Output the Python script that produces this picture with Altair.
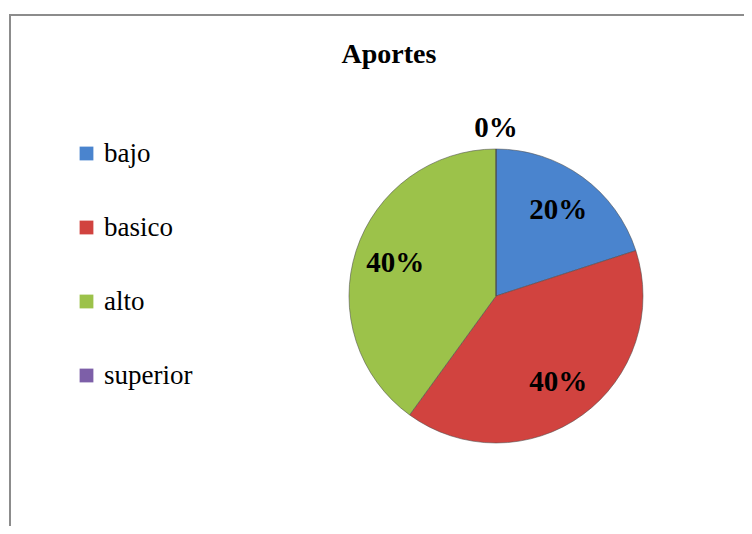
import altair as alt
import pandas as pd

TITLE = "Aportes"
categories = ["bajo", "basico", "alto", "superior"]
values = [20, 40, 40, 0]
colors = ["#4A84CE", "#D1433F", "#9CC24A", "#7D5FA8"]

df = pd.DataFrame({"cat": categories, "value": values, "idx": list(range(len(categories)))})

FONT = "Liberation Serif"
CX, CY, R = 488, 288, 147

base = alt.Chart(df)

theta = alt.Theta("value:Q", stack=True)
order = alt.Order("idx:Q")

shadow = alt.Chart(alt.Data(values=[{"v": 1}])).mark_arc(
    color="#000000", opacity=0.10, radius=R + 1
).encode(theta=alt.Theta("v:Q"), x=alt.value(CX), y=alt.value(CY + 4))

pie = base.mark_arc(radius=R, stroke="#4d4d4d", strokeOpacity=0.55, strokeWidth=1).encode(
    theta=theta,
    order=order,
    x=alt.value(CX),
    y=alt.value(CY),
    color=alt.Color(
        "cat:N",
        sort=categories,
        scale=alt.Scale(domain=categories, range=colors),
        legend=alt.Legend(
            title=None,
            orient="none",
            legendX=65,
            legendY=132,
            symbolType="square",
            symbolSize=190,
            symbolStrokeWidth=0,
            labelFont=FONT,
            labelFontSize=27,
            labelColor="#000000",
            labelOffset=4,
            rowPadding=46,
        ),
    ),
)

labels = base.transform_calculate(
    label="datum.value + '%'",
    r="datum.value == 0 ? 168 : 106",
).mark_text(font=FONT, fontSize=29, fontWeight="bold", color="#000000", baseline="middle", align="center").encode(
    theta=theta,
    order=order,
    radius=alt.Radius("r:Q", scale=None),
    x=alt.value(CX),
    y=alt.value(CY),
    text="label:N",
)

one = alt.Data(values=[{"t": TITLE}])
title = alt.Chart(one).mark_text(
    font=FONT, fontSize=28, fontWeight="bold", color="#000000", align="center", baseline="alphabetic"
).encode(x=alt.value(381), y=alt.value(55), text="t:N")

top_rule = alt.Chart(one).mark_rule(color="#8c8c8c", strokeWidth=2).encode(
    x=alt.value(1), x2=alt.value(736), y=alt.value(7)
)
left_rule = alt.Chart(one).mark_rule(color="#8c8c8c", strokeWidth=2).encode(
    x=alt.value(2), y=alt.value(6), y2=alt.value(526)
)

chart = alt.layer(shadow, pie, labels, title, top_rule, left_rule).properties(
    width=736,
    height=518,
    autosize=alt.AutoSizeParams(type="none"),
    padding=0,
    background="#ffffff",
).configure_view(strokeWidth=0).configure_legend(
    labelFont=FONT, labelFontSize=27, labelColor="#000000"
).configure_text(font=FONT)

chart.save("out.html", embed_options={"renderer": "svg", "actions": False})
